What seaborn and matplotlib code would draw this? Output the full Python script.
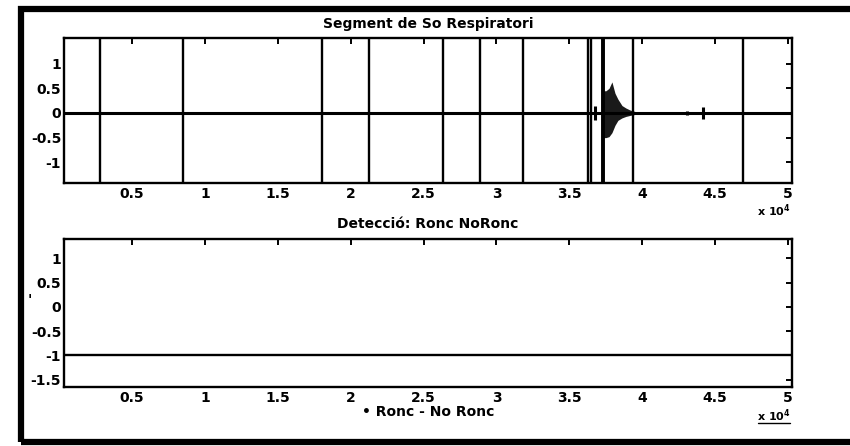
import numpy as np
import pandas as pd
import seaborn as sns
import matplotlib
matplotlib.use("Agg")
import matplotlib.pyplot as plt
from matplotlib.patches import Rectangle
from matplotlib.lines import Line2D

# --- respiratory sound segment (samples) ---
baseline_x = [0, 50300]
baseline_y = [0.0, 0.0]

# transient clicks that saturate the display
click_x = [2805, 8480, 18010, 21280, 26350, 28870, 31840, 36300, 36460, 37340, 39340, 46900]

# short low-level blips on the baseline
blip_x = [36760, 43070, 44160]
blip_amp = [0.15, 0.05, 0.12]

# envelope of the snore burst
burst_x = [37300, 37510, 37720, 37920, 38130, 38330, 38610, 38880, 39160, 39500]
burst_hi = [0.45, 0.45, 0.50, 0.63, 0.40, 0.28, 0.15, 0.10, 0.06, 0.03]
burst_lo = [-0.50, -0.50, -0.48, -0.40, -0.25, -0.15, -0.10, -0.07, -0.05, -0.03]

# --- detection output: Ronc (+1) / NoRonc (-1) ---
detect_x = [0, 50300]
detect_y = [-1, -1]

x_ticks = [5000, 10000, 15000, 20000, 25000, 30000, 35000, 40000, 45000, 50000]
x_tick_labels = ["0.5", "1", "1.5", "2", "2.5", "3", "3.5", "4", "4.5", "5"]
y_ticks_top = [-1, -0.5, 0, 0.5, 1]
y_tick_labels_top = ["-1", "-0.5", "0", "0.5", "1"]
y_ticks_bot = [-1.5, -1, -0.5, 0, 0.5, 1]
y_tick_labels_bot = ["-1.5", "-1", "-0.5", "0", "0.5", "1"]

title_top = "Segment de So Respiratori"
title_bot = "Detecció: Ronc NoRonc"
xlabel_bot = "• Ronc - No Ronc"

sns.set_theme(style="white")
plt.rcParams["font.family"] = ["DejaVu Sans"]
plt.rcParams["font.weight"] = "bold"
plt.rcParams["text.color"] = "black"
plt.rcParams["axes.labelcolor"] = "black"
plt.rcParams["axes.titlecolor"] = "black"

FS = 10
fig = plt.figure(figsize=(8.5, 4.46), dpi=100)
fig.patch.set_facecolor("white")

# outer frame
fig.patches.append(Rectangle((21 / 850, 1 - 442 / 446), 1.0, 433 / 446,
                             transform=fig.transFigure, fill=False,
                             edgecolor="black", linewidth=4.5, zorder=10))

ax1 = fig.add_axes([64 / 850, 1 - 183 / 446, 728 / 850, 145 / 446])
ax2 = fig.add_axes([64 / 850, 1 - 387 / 446, 728 / 850, 148 / 446])

xlim = (340, 50270)

# top panel: sound segment
sig = pd.DataFrame({"x": baseline_x, "y": baseline_y})
sns.lineplot(data=sig, x="x", y="y", ax=ax1, color="black", linewidth=2.2)
ax1.vlines(click_x, -3, 3, color="black", linewidth=1.7)
ax1.vlines(blip_x, [-a for a in blip_amp], blip_amp, color="black", linewidth=2.2)
ax1.fill_between(burst_x, burst_lo, burst_hi, color="#1a1a1a", linewidth=0)
ax1.vlines(burst_x[0], -3, 3, color="black", linewidth=2.8)
ax1.set_ylim(-1.42, 1.52)
ax1.set_yticks(y_ticks_top)
ax1.set_yticklabels(y_tick_labels_top)
ax1.set_title(title_top, fontsize=FS, pad=7, fontweight="bold", color="black")

# bottom panel: detection result
det = pd.DataFrame({"x": detect_x, "y": detect_y})
sns.lineplot(data=det, x="x", y="y", ax=ax2, color="black", linewidth=1.7)
ax2.set_ylim(-1.65, 1.40)
ax2.set_yticks(y_ticks_bot)
ax2.set_yticklabels(y_tick_labels_bot)
ax2.set_title(title_bot, fontsize=FS, pad=8, fontweight="bold", color="black")
ax2.set_xlabel(xlabel_bot, fontsize=FS, labelpad=0, fontweight="bold", color="black")

for ax in (ax1, ax2):
    ax.set_xlim(*xlim)
    ax.set_xticks(x_ticks)
    ax.set_xticklabels(x_tick_labels)
    if ax is ax1:
        ax.set_xlabel("")
    ax.set_ylabel("")
    ax.tick_params(direction="in", length=4, width=1.4, top=True, right=True,
                   labelsize=FS, pad=2, colors="black")
    ax.tick_params(axis="x", pad=3)
    for s in ax.spines.values():
        s.set_visible(True)
        s.set_color("black")
        s.set_linewidth(1.7)

# exponent labels
fig.text(774 / 850, 1 - 211 / 446, r"x 10$^4$", fontsize=FS - 2, ha="center", va="center",
         fontweight="bold")
fig.text(774 / 850, 1 - 416 / 446, r"x 10$^4$", fontsize=FS - 2, ha="center", va="center",
         fontweight="bold")
fig.lines.append(Line2D([758 / 850, 790 / 850], [1 - 423 / 446, 1 - 423 / 446],
                        transform=fig.transFigure, color="black", linewidth=1.0))
fig.text(30 / 850, 1 - 300 / 446, "'", fontsize=FS, ha="center", va="center")

fig.savefig("out.png", dpi=100, facecolor="white")
